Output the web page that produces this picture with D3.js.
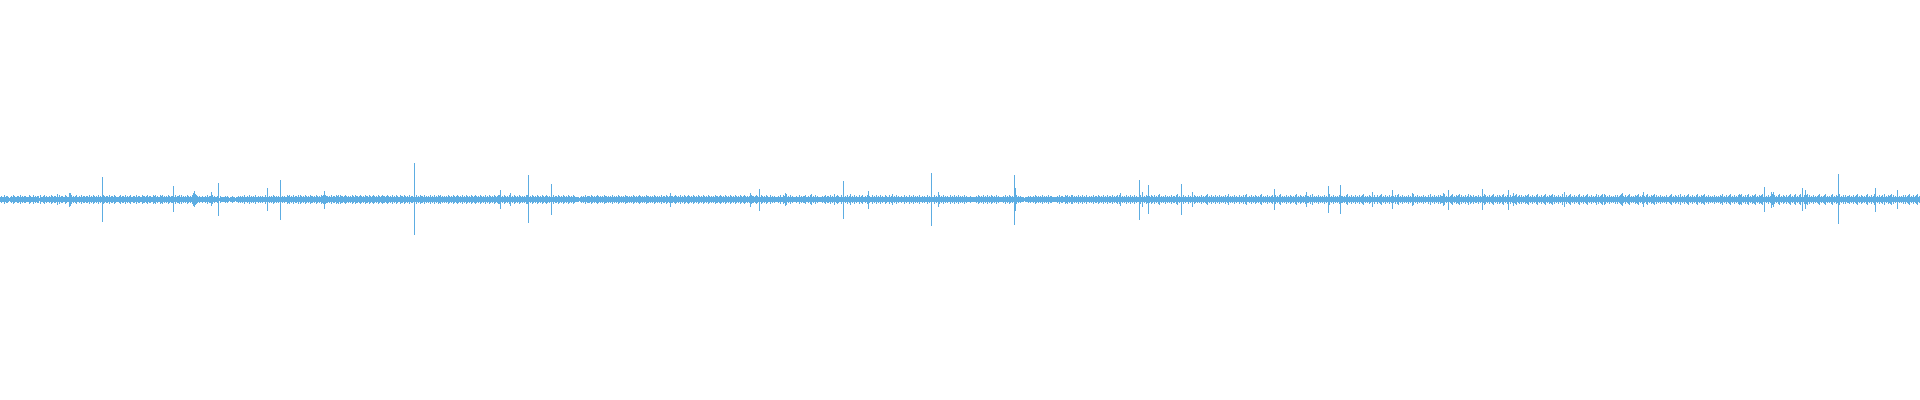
<!DOCTYPE html>
<html>
<head>
<meta charset="utf-8">
<script src="https://cdn.jsdelivr.net/npm/d3@7"></script>
<style>
  html, body { margin: 0; padding: 0; background: #ffffff; overflow: hidden; }
  svg { display: block; }
</style>
</head>
<body>
<svg id="chart" width="1920" height="400"></svg>
<script>
// ---- DATA ----
// Total number of waveform samples (one per column)
const sampleCount = 1920;

// Low-level noise envelope: one digit per sample, amplitude = digit * noiseUnit
// 20 rows of 96 samples each (spaces are only separators for readability)
const noiseUnit = 0.005;
const noiseRows = [
  "343353443234 354334435343 443335433534 344253345343 343543443635 344335433475 343453343534 434435343543",
  "435343354344 353443543334 534435343453 344353443354 434534433545 343354534343 543443353445 353434354343",
  "576654343343 343534435343 343243333434 323343323343 434353343534 343533434343 353434343543 434353434335",
  "453435344353 543435434354 434354343545 354434353443 545354434543 434354354434 543435443543 454343543454",
  "434543435343 543354435434 353443435343 544353434353 435343545343 434354343543 454343534354 343543454343",
  "543435343543 435434554343 543435434354 343543434355 434354343543 435434543434 353443543435 434354343543",
  "333234343534 443543434543 434354434343 534343543434 354434343543 434543434354 434343543434 353443543474",
  "434543435343 543454343543 435434354343 543434354434 543435434354 343543435434 543434354434 543435434354",
  "335343433343 533543634353 433343353434 453343563435 343333434534 435343634543 353434353463 435343353453",
  "343534335343 534353433543 353463435343 343353433534 353434353343 433534353353 434534353434 335343534353",
  "434353433343 333343543435 343534354343 534333343534 354343435343 433323334343 343543434353 434353443333",
  "343534433545 343553434353 435343533434 353443543435 343534435343 453543434353 435343534334 535343543435",
  "435343563434 353434353443 563434353433 534353543434 353434563435 343534353434 353463434353 433534353563",
  "343534354343 563434353434 533534356343 435343543435 634354343534 435363434353 434353435634 353434353443",
  "435634353435 343534563434 354343533534 563435343534 343535634353 434353435634 353434353433 536343534353",
  "544563435345 634354563534 353463543534 435343546534 353456343535 435634354353 434563453534 354563435343",
  "563435345634 354563534353 436343534563 435343563435 345634353434 635345636534 353434353534 563435345634",
  "343545634353 435634354563 534353434353 345634354353 634353456343 534356343545 634353434353 434354634353",
  "456343534356 563435356343 545634354563 434353456353 435634354353 456343563435 634354563534 353434563434",
  "563434356343 545634353534 453435345634 354343563435 346534353453 634354563534 353434353534 563435345634"
];

// Transient peaks: sample index, positive peak, negative peak (normalized amplitude)
const peakIndex = [69, 102, 173, 194, 211, 218, 267, 280, 324, 414, 500, 510, 528, 551, 670, 750, 759, 785, 843, 868,
  931, 938, 1014, 1015, 1120, 1139, 1142, 1148, 1181, 1192, 1274, 1306, 1328, 1340, 1372, 1392, 1412, 1443, 1448, 1482,
  1508, 1513, 1564, 1622, 1643, 1764, 1771, 1773, 1802, 1805, 1838, 1875, 1897];
const peakMax = [0.035, 0.1125, 0.0675, 0.0425, 0.0375, 0.0825, 0.0575, 0.0975, 0.0425, 0.1825, 0.0475, 0.035, 0.1225, 0.08,
  0.0325, 0.0325, 0.0525, 0.035, 0.0925, 0.0425, 0.1325, 0.04, 0.1225, 0.0575, 0.035, 0.0975, 0.04, 0.0725, 0.0775, 0.0375,
  0.055, 0.0375, 0.0675, 0.0725, 0.0375, 0.0475, 0.0325, 0.035, 0.05, 0.0525, 0.05, 0.035, 0.0375, 0.035, 0.04,
  0.0625, 0.04, 0.0375, 0.0575, 0.0475, 0.1275, 0.06, 0.0475];
const peakMin = [-0.0375, -0.115, -0.065, -0.04, -0.035, -0.0825, -0.06, -0.1025, -0.0475, -0.18, -0.0475, -0.0325, -0.12, -0.0775,
  -0.0375, -0.0375, -0.0575, -0.035, -0.0975, -0.0475, -0.1325, -0.04, -0.1275, -0.0575, -0.035, -0.1025, -0.04, -0.0725, -0.0775, -0.0375,
  -0.055, -0.0375, -0.0675, -0.0725, -0.0375, -0.0475, -0.0325, -0.035, -0.0525, -0.0525, -0.0525, -0.035, -0.0375, -0.035, -0.04,
  -0.0625, -0.0425, -0.0375, -0.0575, -0.0475, -0.125, -0.0625, -0.0475];

// ---- BUILD ----
const rowLength = 96;
const noise = [];
noiseRows.forEach((row, r) => {
  const digits = row.replace(/\s+/g, "");
  for (let j = 0; j < digits.length; j++) {
    const a = (+digits[j]) * noiseUnit;
    noise.push({ i: r * rowLength + j, max: a, min: -a });
  }
});
const peaks = peakIndex.map((idx, k) => ({ i: idx, max: peakMax[k], min: peakMin[k] }));

const width = 1920, height = 400;
const color = "#5dade2";
const x = d3.scaleLinear().domain([0, sampleCount]).range([0, width]);
const y = d3.scaleLinear().domain([-1, 1]).range([399, 0]);

const svg = d3.select("#chart");
const g = svg.append("g").attr("shape-rendering", "crispEdges").attr("fill", color);

function drawBars(sel, data) {
  sel.selectAll("rect").data(data).join("rect")
    .attr("x", d => x(d.i))
    .attr("width", d => Math.max(1, x(d.i + 1) - x(d.i)))
    .attr("y", d => y(d.max))
    .attr("height", d => Math.max(1, y(d.min) - y(d.max)));
}
drawBars(g.append("g").attr("class", "noise"), noise);
drawBars(g.append("g").attr("class", "peaks"), peaks);
</script>
</body>
</html>
